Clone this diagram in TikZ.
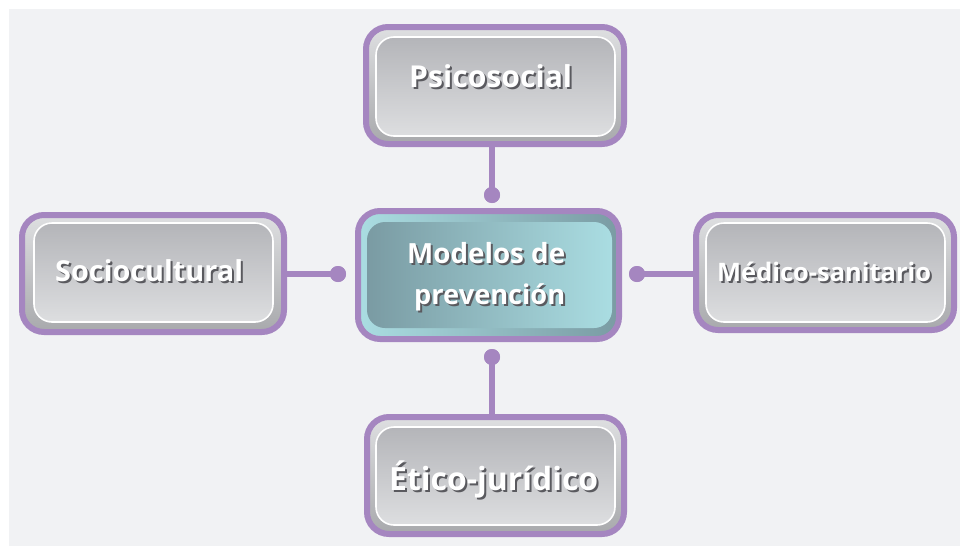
\documentclass[tikz,border=0pt]{standalone}
\usepackage{fontspec}
\usepackage{graphicx}
\setmainfont{Open Sans}
\definecolor{shad}{RGB}{90,90,95}
\newcommand\shtext[2]{\makebox[0pt][l]{\hspace{2pt}\raisebox{-2pt}{\textcolor{shad}{\resizebox{#1}{!}{#2}}}}\textcolor{white}{\resizebox{#1}{!}{#2}}}
\begin{document}
\begin{tikzpicture}[x=1pt,y=-1pt]
\definecolor{bgc}{RGB}{241,242,244}
\definecolor{purp}{RGB}{165,134,192}
\definecolor{gtop}{RGB}{222,223,225}
\definecolor{gbot}{RGB}{168,169,172}
\definecolor{itop}{RGB}{180,181,185}
\definecolor{ibot}{RGB}{221,222,224}
\definecolor{tlight}{RGB}{170,221,226}
\definecolor{tdark}{RGB}{122,155,163}
\tikzset{
  outerbox/.style={rectangle, rounded corners=22pt, draw=purp, line width=6pt,
    top color=gtop, bottom color=gbot, inner sep=0pt, outer sep=0pt},
  innerbox/.style={rectangle, rounded corners=18pt, draw=white, line width=1.6pt,
    top color=itop, bottom color=ibot, inner sep=0pt, outer sep=0pt},
  centouter/.style={rectangle, rounded corners=22pt, draw=purp, line width=6pt,
    left color=tlight, right color=tdark, inner sep=0pt, outer sep=0pt},
  centinner/.style={rectangle, rounded corners=18pt, draw=none,
    left color=tdark, right color=tlight, inner sep=0pt, outer sep=0pt},
  lbl/.style={inner sep=0pt, anchor=base west, font=\bfseries},
  link/.style={draw=purp, line width=6pt},
  dot/.style={circle, fill=purp, minimum size=16pt, inner sep=0pt, outer sep=0pt}
}
\useasboundingbox (0,0) rectangle (960,546);
\fill[white] (0,0) rectangle (960,546);
\fill[bgc] (9,9) rectangle (960,546);

% dots
\node[dot] (dtop) at (492,195) {};
\node[dot] (dleft) at (338,274) {};
\node[dot] (dright) at (637,274) {};
\node[dot] (dbot) at (492,357) {};

% boxes
\node[outerbox, minimum width=258pt, minimum height=117pt] (psi) at (495,85.5) {};
\node[innerbox, minimum width=239pt, minimum height=99pt] (psiin) at (495.5,86.5) {};

\node[outerbox, minimum width=262pt, minimum height=117pt] (soc) at (153,273.5) {};
\node[innerbox, minimum width=239pt, minimum height=99pt] (socin) at (153.5,272.5) {};

\node[outerbox, minimum width=258pt, minimum height=115pt] (med) at (825,272.5) {};
\node[innerbox, minimum width=239pt, minimum height=99pt] (medin) at (825.5,272.5) {};

\node[outerbox, minimum width=257pt, minimum height=117pt] (eti) at (495.5,475.5) {};
\node[innerbox, minimum width=239pt, minimum height=98pt] (etiin) at (495.5,476) {};

\node[centouter, minimum width=261pt, minimum height=128pt] (cen) at (488.5,275) {};
\node[centinner, minimum width=245pt, minimum height=106pt] (cenin) at (489.5,275) {};

% connectors
\draw[link] (psi.south -| dtop) -- (dtop.center);
\draw[link] (soc.east |- dleft) -- (dleft.center);
\draw[link] (dright.center) -- (med.west |- dright);
\draw[link] (dbot.center) -- (eti.north -| dbot);
\node[dot] at (dtop) {};
\node[dot] at (dleft) {};
\node[dot] at (dright) {};
\node[dot] at (dbot) {};

% labels
\node[lbl] (psit) at (409,87) {\shtext{163pt}{Psicosocial}};
\node[lbl] (soct) at (55,281) {\shtext{188pt}{Sociocultural}};
\node[lbl] (medt) at (717,281) {\shtext{214pt}{Médico-sanitario}};
\node[lbl] (etit) at (389,490) {\shtext{209pt}{Ético-jurídico}};
\node[lbl] (cent1) at (407,263) {\shtext{158pt}{Modelos de}};
\node[lbl] (cent2) at (414,304) {\shtext{151pt}{prevención}};
\end{tikzpicture}
\end{document}
